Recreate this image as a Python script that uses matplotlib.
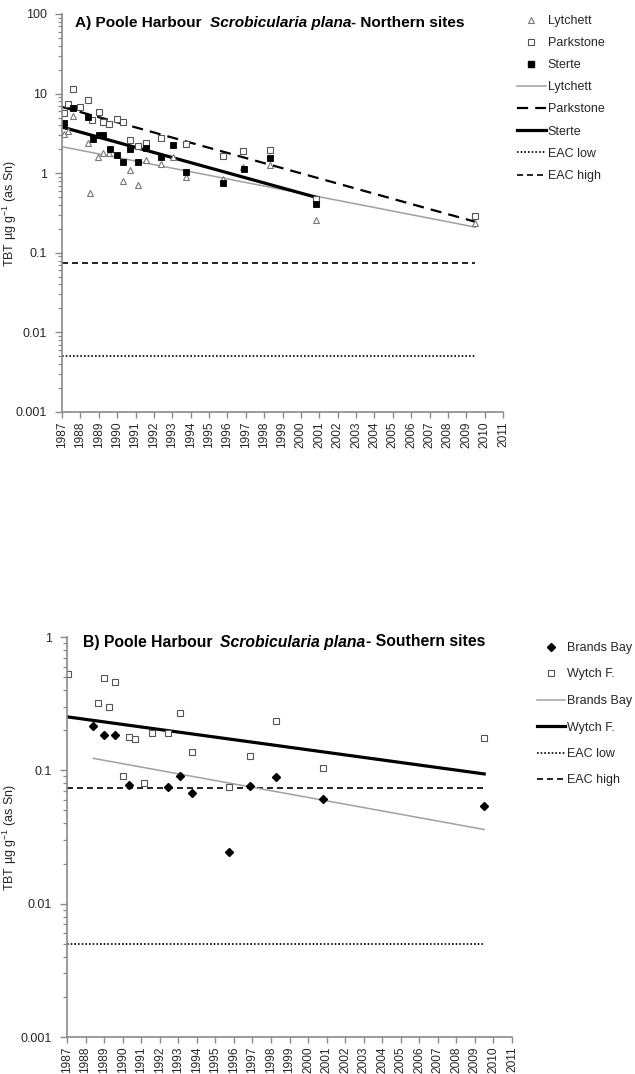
import matplotlib
matplotlib.use("Agg")
import matplotlib.pyplot as plt
from matplotlib.ticker import LogLocator, FixedLocator, NullFormatter
from matplotlib.lines import Line2D

plt.rcParams['font.family'] = ['Liberation Sans', 'DejaVu Sans']
plt.rcParams['mathtext.default'] = 'regular'

# ---- Northern sites -------------------------------------------------------
lytchett_years = [1987.1, 1987.35, 1987.6, 1988.4, 1988.55, 1988.97, 1989.25, 1989.55,
                  1990.33, 1990.7, 1991.15, 1991.57, 1992.4, 1993.05, 1993.74, 1995.77,
                  1996.87, 1998.3, 2000.8, 2009.5]
lytchett_tbt = [3.1, 3.4, 5.2, 2.4, 0.57, 1.58, 1.8, 1.8,
                0.8, 1.1, 0.72, 1.45, 1.3, 1.6, 0.9, 0.85,
                1.18, 1.27, 0.26, 0.24]

parkstone_years = [1987.1, 1987.35, 1987.6, 1988.0, 1988.4, 1988.65, 1989.0, 1989.25,
                   1989.57, 1990.0, 1990.33, 1990.7, 1991.15, 1991.57, 1992.4, 1993.74,
                   1995.77, 1996.85, 1998.3, 2000.8, 2009.5]
parkstone_tbt = [5.7, 7.4, 11.4, 6.8, 8.3, 4.7, 5.8, 4.4,
                 4.2, 4.75, 4.4, 2.6, 2.2, 2.4, 2.8, 2.35,
                 1.64, 1.92, 1.94, 0.48, 0.29]

sterte_years = [1987.1, 1987.6, 1988.4, 1988.67, 1989.03, 1989.25, 1989.6, 1990.0,
                1990.33, 1990.7, 1991.15, 1991.57, 1992.4, 1993.05, 1993.74, 1995.77,
                1996.9, 1998.3, 2000.8]
sterte_tbt = [4.3, 6.5, 5.1, 2.7, 3.0, 3.0, 2.0, 1.68,
              1.37, 2.0, 1.37, 2.05, 1.6, 2.25, 1.05, 0.75,
              1.12, 1.54, 0.41]

# exponential trend lines (start / end)
lytchett_trend_years = [1987.0, 2009.5]
lytchett_trend_tbt = [2.15, 0.21]
parkstone_trend_years = [1987.0, 2009.5]
parkstone_trend_tbt = [6.8, 0.245]
sterte_trend_years = [1987.0, 2000.8]
sterte_trend_tbt = [3.8, 0.5]

# ---- Southern sites -------------------------------------------------------
brands_years = [1988.42, 1989.0, 1989.57, 1990.33, 1992.43, 1993.1, 1993.74, 1995.76,
                1996.85, 1998.29, 2000.8, 2009.5]
brands_tbt = [0.216, 0.183, 0.183, 0.0776, 0.0745, 0.0906, 0.0672, 0.0243,
              0.0762, 0.0895, 0.0606, 0.0543]

wytch_years = [1987.07, 1988.65, 1989.0, 1989.27, 1989.57, 1990.02, 1990.35, 1990.67,
               1991.15, 1991.57, 1992.43, 1993.1, 1993.74, 1995.76, 1996.85, 1998.29,
               2000.8, 2009.5]
wytch_tbt = [0.53, 0.32, 0.495, 0.30, 0.46, 0.091, 0.179, 0.172,
             0.080, 0.191, 0.191, 0.268, 0.138, 0.0745, 0.128, 0.233,
             0.104, 0.174]

brands_trend_years = [1988.42, 2009.5]
brands_trend_tbt = [0.123, 0.036]
wytch_trend_years = [1987.0, 2009.5]
wytch_trend_tbt = [0.252, 0.094]

# Environmental Assessment Criteria
eac_years = [1987.0, 2009.5]
eac_low = 0.005
eac_high = 0.074

year_ticks = list(range(1987, 2012))

W, H = 635, 1074
fig = plt.figure(figsize=(W / 100, H / 100), dpi=100)
fig.patch.set_facecolor('white')

AX_GREY = '#8a8a8a'
TXT = '#262626'
LINE_GREY = '#a0a0a0'
THICK = 2.3
EAC_LOW_LS = (0, (1, 1.2))
EAC_HIGH_LS = (0, (3.6, 2.4))
PARK_LS = (0, (5, 3.2))


def style_axes(ax, ymin, ymax, label_x):
    ax.set_yscale('log')
    ax.set_ylim(ymin, ymax)
    ax.set_xlim(1987, 2011)
    for s in ('top', 'right'):
        ax.spines[s].set_visible(False)
    for s in ('left', 'bottom'):
        ax.spines[s].set_color(AX_GREY)
        ax.spines[s].set_linewidth(1.2)
    ax.xaxis.set_major_locator(FixedLocator(year_ticks))
    ax.set_xticklabels([str(y) for y in year_ticks], rotation=90, fontsize=8.6, color=TXT)
    ax.yaxis.set_major_locator(LogLocator(base=10))
    ax.yaxis.set_minor_locator(LogLocator(base=10, subs=range(2, 10)))
    ax.yaxis.set_minor_formatter(NullFormatter())
    ax.yaxis.set_major_formatter(plt.FuncFormatter(lambda v, p: f'{v:g}'))
    ax.tick_params(axis='both', which='major', direction='out', color=AX_GREY,
                   length=4, width=1, labelsize=9, labelcolor=TXT)
    ax.tick_params(axis='x', which='major', pad=3, labelsize=8.6)
    ax.tick_params(axis='y', which='major', pad=6, length=5)
    ax.tick_params(axis='y', which='minor', direction='out', color=AX_GREY,
                   length=3, width=0.9)
    ax.set_ylabel(r'TBT µg g$^{-1}$ (as Sn)', fontsize=9, color=TXT)
    ax.yaxis.set_label_coords(label_x, 0.5)
    ax.patch.set_alpha(0)


def eac_lines(ax):
    ax.plot(eac_years, [eac_low, eac_low], color='black', lw=1.2, ls=EAC_LOW_LS)
    ax.plot(eac_years, [eac_high, eac_high], color='black', lw=1.2, ls=EAC_HIGH_LS)


def title_runs(x_px, y_px, parts, size=11):
    renderer = fig.canvas.get_renderer()
    x = x_px
    for text, style, gap in parts:
        x += gap
        t = fig.text(x / W, 1 - y_px / H, text, fontsize=size, fontweight='bold',
                     fontstyle=style, va='center', ha='left', color='black')
        x += t.get_window_extent(renderer).width


# ---------------- Panel A ----------------
axA = fig.add_axes([62 / W, 1 - 412 / H, 441 / W, 398 / H])
style_axes(axA, 0.001, 100, (19 - 62) / 441)
eac_lines(axA)
axA.plot(lytchett_trend_years, lytchett_trend_tbt, color=LINE_GREY, lw=1.1)
axA.plot(parkstone_trend_years, parkstone_trend_tbt, color='black', lw=1.6, ls=PARK_LS)
axA.plot(sterte_trend_years, sterte_trend_tbt, color='black', lw=THICK)
axA.plot(lytchett_years, lytchett_tbt, ls='none', marker='^', ms=4.6, mfc='white',
         mec='#777777', mew=0.8)
axA.plot(parkstone_years, parkstone_tbt, ls='none', marker='s', ms=4.8, mfc='white',
         mec='#555555', mew=0.8)
axA.plot(sterte_years, sterte_tbt, ls='none', marker='s', ms=4.8, mfc='black',
         mec='black', mew=0.6)

handlesA = [
    Line2D([], [], ls='none', marker='^', ms=4, mfc='white', mec='#777777', mew=0.8),
    Line2D([], [], ls='none', marker='s', ms=4, mfc='white', mec='#555555', mew=0.8),
    Line2D([], [], ls='none', marker='s', ms=4, mfc='black', mec='black'),
    Line2D([], [], color=LINE_GREY, lw=1.1),
    Line2D([], [], color='black', lw=1.6, ls=PARK_LS),
    Line2D([], [], color='black', lw=THICK),
    Line2D([], [], color='black', lw=1.2, ls=EAC_LOW_LS),
    Line2D([], [], color='black', lw=1.2, ls=EAC_HIGH_LS),
]
labelsA = ['Lytchett', 'Parkstone', 'Sterte', 'Lytchett', 'Parkstone', 'Sterte',
           'EAC low', 'EAC high']
fig.legend(handlesA, labelsA, loc='upper left', bbox_to_anchor=(517 / W, 1 - 15 / H),
           frameon=False, fontsize=9, handlelength=2.3, handletextpad=0.15,
           labelspacing=0.81, borderpad=0, borderaxespad=0, labelcolor=TXT)

title_runs(75, 23, [('A) Poole Harbour', 'normal', 0),
                    ('Scrobicularia plana', 'italic', 8),
                    ('- Northern sites', 'normal', 0)], size=11.1)

# ---------------- Panel B ----------------
axB = fig.add_axes([67 / W, 1 - 1037 / H, 445 / W, 400 / H])
style_axes(axB, 0.001, 1, (19 - 67) / 445)
eac_lines(axB)
axB.plot(brands_trend_years, brands_trend_tbt, color=LINE_GREY, lw=1.1)
axB.plot(wytch_trend_years, wytch_trend_tbt, color='black', lw=THICK)
axB.plot(brands_years, brands_tbt, ls='none', marker='D', ms=4.0, mfc='black',
         mec='black')
axB.plot(wytch_years, wytch_tbt, ls='none', marker='s', ms=4.5, mfc='white',
         mec='#555555', mew=0.8)

handlesB = [
    Line2D([], [], ls='none', marker='D', ms=3.6, mfc='black', mec='black'),
    Line2D([], [], ls='none', marker='s', ms=4, mfc='white', mec='#555555', mew=0.8),
    Line2D([], [], color=LINE_GREY, lw=1.1),
    Line2D([], [], color='black', lw=THICK),
    Line2D([], [], color='black', lw=1.2, ls=EAC_LOW_LS),
    Line2D([], [], color='black', lw=1.2, ls=EAC_HIGH_LS),
]
labelsB = ['Brands Bay', 'Wytch F.', 'Brands Bay', 'Wytch F.', 'EAC low', 'EAC high']
fig.legend(handlesB, labelsB, loc='upper left', bbox_to_anchor=(537 / W, 1 - 642 / H),
           frameon=False, fontsize=9, handlelength=2.25, handletextpad=0.15,
           labelspacing=1.16, borderpad=0, borderaxespad=0, labelcolor=TXT)

title_runs(83, 642, [('B) Poole Harbour', 'normal', 0),
                     ('Scrobicularia plana', 'italic', 8),
                     ('- Southern sites', 'normal', 0)], size=11.3)

fig.savefig('out.png', dpi=100, facecolor='white')
